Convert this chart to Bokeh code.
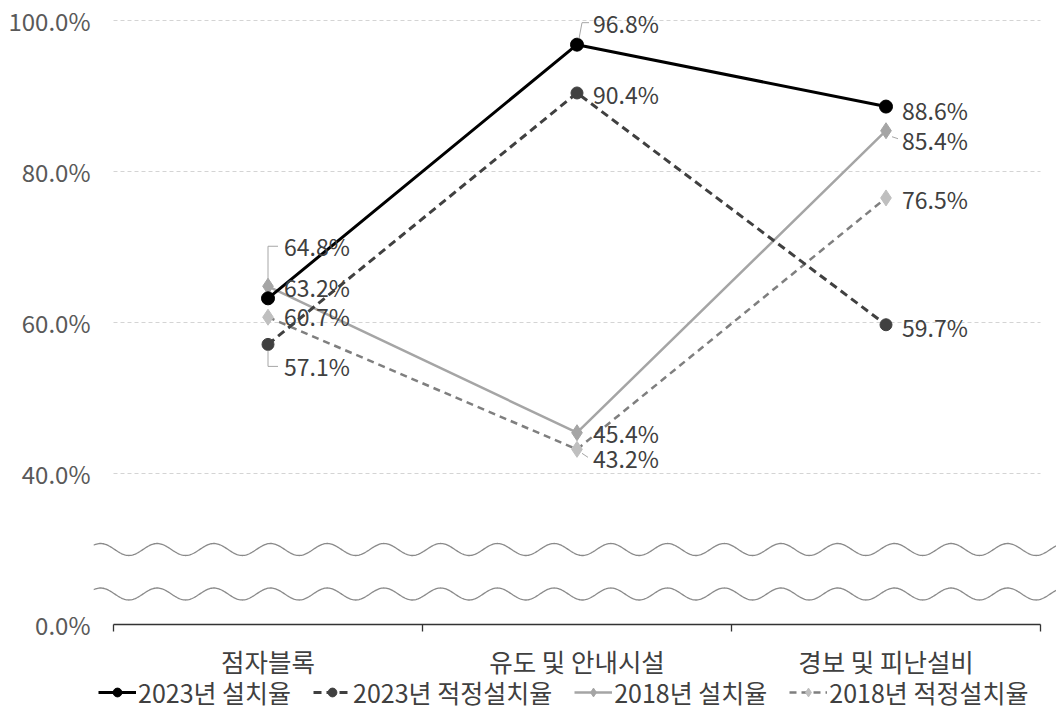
import numpy as np
from bokeh.plotting import figure
from bokeh.models import Range1d, FixedTicker, Legend, LegendItem
from bokeh.core.properties import value
from bokeh.embed import file_html
from bokeh.resources import INLINE

# ---------------- data ----------------
categories = ["점자블록", "유도 및 안내시설", "경보 및 피난설비"]
install_2023 = [63.2, 96.8, 88.6]
proper_2023 = [57.1, 90.4, 59.7]
install_2018 = [64.8, 45.4, 85.4]
proper_2018 = [60.7, 43.2, 76.5]
series_names = ["2023년 설치율", "2023년 적정설치율", "2018년 설치율", "2018년 적정설치율"]
y_tick_values = [0, 40, 60, 80, 100]
y_tick_labels = ["0.0%", "40.0%", "60.0%", "80.0%", "100.0%"]
grid_values = [40, 60, 80, 100]

# ---------------- broken-axis mapping: 0..40 squeezed into 20..40 ----------------
def to_axis(v):
    return v if v >= 40 else 20 + v / 2.0

FONT = "Noto Sans CJK KR"
W, H = 1056, 718
BL = 93
frame_w, frame_h = W - BL, H
PX = 309.0      # px per category unit
PY = 7.55       # px per percent unit
x0 = -20 / PX
x1 = x0 + frame_w / PX
y1 = 100 + 20 / PY
y0 = y1 - frame_h / PY

p = figure(width=W, height=H, output_backend="svg", toolbar_location=None,
           x_range=Range1d(x0, x1), y_range=Range1d(y0, y1),
           min_border_left=BL, min_border_bottom=0, min_border_top=0, min_border_right=0)
p.outline_line_color = None
p.xgrid.visible = False
p.ygrid.visible = False
p.xaxis.visible = False
p.background_fill_color = "white"
p.border_fill_color = "white"

xs = [i + 0.5 for i in range(len(categories))]
n = len(categories)
base = to_axis(0)

# gridlines (dashed) over the category axis extent
p.segment(x0=[0] * len(grid_values), x1=[n] * len(grid_values),
          y0=[to_axis(v) for v in grid_values], y1=[to_axis(v) for v in grid_values],
          line_color="#d4d4d4", line_width=1, line_dash="4 3")

# axis-break wavy lines
wx = np.linspace(x0, x1, 900)
period = 56.7 / PX
xpeak = (100 - 113) / PX
for centre_px in (549.0, 593.5):
    c = 100 - (centre_px - 20) / PY
    a = 6.0 / PY
    p.line(wx, c + a * np.cos(2 * np.pi * (wx - xpeak) / period),
           line_color="#8a8a8a", line_width=1.3)

# category axis line and its tick marks
p.segment(x0=[0], x1=[n], y0=[base], y1=[base], line_color="#333333", line_width=1.3)
p.segment(x0=list(range(n + 1)), x1=list(range(n + 1)),
          y0=[base] * (n + 1), y1=[base - 7 / PY] * (n + 1),
          line_color="#333333", line_width=1.3)
# category labels
p.text(xs, [base] * n, text=categories, y_offset=36,
       text_font=value(FONT), text_font_size="25.5px", text_color="#404040",
       text_align="center", text_baseline="middle")

# ---------------- series ----------------
styles = [
    dict(data=install_2023, line="#000000", dash="solid", marker="circle", mcolor="#000000", msize=13, lw=3),
    dict(data=proper_2023, line="#404040", dash="8 5", marker="circle", mcolor="#404040", msize=12, lw=3),
    dict(data=install_2018, line="#a5a5a5", dash="solid", marker="diamond", mcolor="#a5a5a5", msize=16, lw=2.5),
    dict(data=proper_2018, line="#7f7f7f", dash="7 5", marker="diamond", mcolor="#bfbfbf", msize=16, lw=2.5),
]
draw_order = [3, 2, 1, 0]
renderers = {}
for i in draw_order:
    s = styles[i]
    ys = [to_axis(v) for v in s["data"]]
    lr = p.line(xs, ys, line_color=s["line"], line_width=s["lw"], line_dash=s["dash"])
    sr = p.scatter(xs, ys, marker=s["marker"], size=s["msize"], fill_color=s["mcolor"],
                   line_color=s["mcolor"])
    renderers[i] = [lr, sr]

# label vertical offsets (screen px, + = down)
label_dy = [
    [-11, -22, 3],
    [22, 1, 2],
    [-40, 0, 9],
    [-1, 9, 1],
]
for i, s in enumerate(styles):
    ys = [to_axis(v) for v in s["data"]]
    p.text(xs, ys, text=["%.1f%%" % v for v in s["data"]],
           x_offset=16, y_offset=label_dy[i],
           text_font=value(FONT), text_font_size="23px", text_color="#404040",
           text_align="left", text_baseline="middle")

# leader lines: (series, category, list of pixel offsets from the point)
leaders = [
    (2, 0, [(0, -7), (0, -40), (10, -40)]),
    (1, 0, [(0, 6), (0, 22), (10, 22)]),
    (0, 1, [(2, -6), (5, -22), (12, -22)]),
    (2, 2, [(6, 6), (12, 8)]),
    (3, 1, [(5, 4), (11, 8)]),
]
for si, ci, pts in leaders:
    bx = xs[ci]
    by = to_axis(styles[si]["data"][ci])
    p.line([bx + dx / PX for dx, dy in pts], [by - dy / PY for dx, dy in pts],
           line_color="#a6a6a6", line_width=1)

# ---------------- y axis ----------------
ya = p.yaxis[0]
ya.ticker = FixedTicker(ticks=[to_axis(v) for v in y_tick_values], minor_ticks=[])
ya.major_label_overrides = {to_axis(v): t for v, t in zip(y_tick_values, y_tick_labels)}
ya.axis_line_color = None
ya.major_tick_line_color = None
ya.major_tick_out = 0
ya.major_tick_in = 0
ya.minor_tick_line_color = None
ya.major_label_standoff = 3
ya.major_label_text_font = FONT
ya.major_label_text_font_size = "24px"
ya.major_label_text_color = "#595959"

legend = Legend(items=[LegendItem(label=series_names[i], renderers=renderers[i]) for i in range(4)],
                orientation="horizontal", location=(5, 8),
                label_text_font=FONT, label_text_font_size="25px", label_text_color="#404040",
                glyph_width=38, glyph_height=22, label_standoff=2, spacing=22,
                padding=0, margin=0, border_line_color=None, background_fill_alpha=0)
p.add_layout(legend, "center")

open("out.html", "w").write(file_html(p, INLINE))
